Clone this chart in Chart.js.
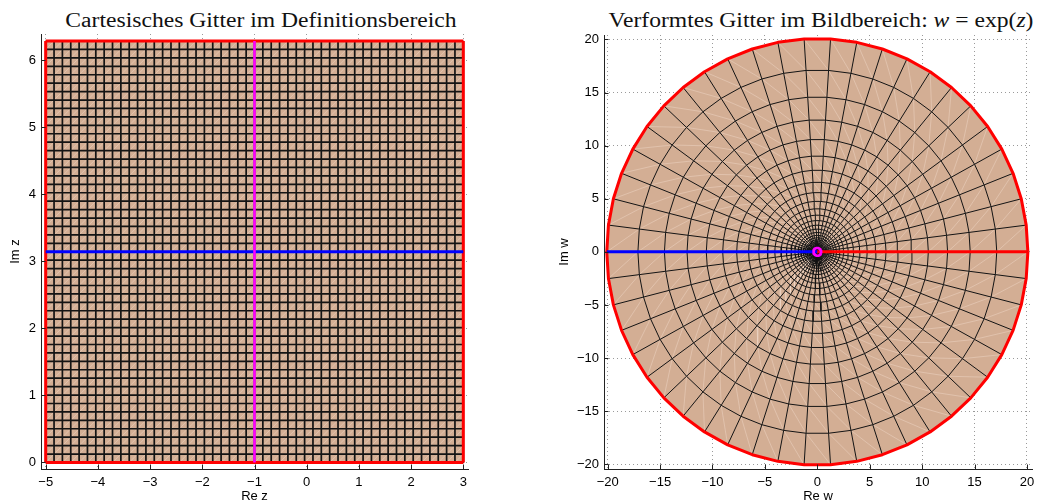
<!DOCTYPE html>
<html>
<head>
<meta charset="utf-8">
<script src="https://cdn.jsdelivr.net/npm/chart.js@4.4.1/dist/chart.umd.min.js"></script>
<style>
  html, body { margin: 0; padding: 0; background: #fff; }
  body { width: 1049px; height: 502px; overflow: hidden; position: relative; }
  canvas { position: absolute; top: 0; }
  #zPlane { left: 0; }
  #wPlane { left: 524px; }
  .title {
    position: absolute; top: 10px; line-height: 20px; white-space: nowrap;
    font-family: "Liberation Serif", "Times New Roman", serif; font-size: 20px; color: #111;
    transform: translateX(-50%) scaleX(1.18);
  }
  .title i { font-style: italic; }
</style>
</head>
<body>
<div class="title" style="left:261px">Cartesisches Gitter im Definitionsbereich</div>
<div class="title" style="left:821px">Verformtes Gitter im Bildbereich: <i>w</i> = exp(<i>z</i>)</div>
<canvas id="zPlane" width="520" height="502"></canvas>
<canvas id="wPlane" width="525" height="502"></canvas>
<script>
// Grid lines of the domain: Re z and Im z values
const reGrid = [-5.00, -4.84, -4.68, -4.52, -4.36, -4.20, -4.04, -3.88, -3.72, -3.56,
                -3.40, -3.24, -3.08, -2.92, -2.76, -2.60, -2.44, -2.28, -2.12, -1.96,
                -1.80, -1.64, -1.48, -1.32, -1.16, -1.00, -0.84, -0.68, -0.52, -0.36,
                -0.20, -0.04, 0.12, 0.28, 0.44, 0.60, 0.76, 0.92, 1.08, 1.24,
                1.40, 1.56, 1.72, 1.88, 2.04, 2.20, 2.36, 2.52, 2.68, 2.84, 3.00];
const imGrid = [0, 0.1257, 0.2513, 0.3770, 0.5027, 0.6283, 0.7540, 0.8796, 1.0053, 1.1310,
                1.2566, 1.3823, 1.5080, 1.6336, 1.7593, 1.8850, 2.0106, 2.1363, 2.2619, 2.3876,
                2.5133, 2.6389, 2.7646, 2.8903, 3.0159, 3.1416, 3.2673, 3.3929, 3.5186, 3.6442,
                3.7699, 3.8956, 4.0212, 4.1469, 4.2726, 4.3982, 4.5239, 4.6496, 4.7752, 4.9009,
                5.0265, 5.1522, 5.2779, 5.4035, 5.5292, 5.6549, 5.7805, 5.9062, 6.0319, 6.1575, 6.2832];

// Highlighted lines: Re z = -1 (magenta) and Im z = pi (blue)
const reHighlight = -1.00;
const imHighlight = 3.1416;

// Tick labels
const zTicksX = [-5, -4, -3, -2, -1, 0, 1, 2, 3];
const zTicksY = [0, 1, 2, 3, 4, 5, 6];
const wTicksX = [-20, -15, -10, -5, 0, 5, 10, 15, 20];
const wTicksY = [-20, -15, -10, -5, 0, 5, 10, 15, 20];

// ---------------------------------------------------------------------------
const GAP = { x: NaN, y: NaN };
const identity = (re, im) => ({ x: re, y: im });
const expMap = (re, im) => ({ x: Math.exp(re) * Math.cos(im), y: Math.exp(re) * Math.sin(im) });

const constRe = (map, re) => imGrid.map(im => map(re, im));
const constIm = (map, im) => reGrid.map(re => map(re, im));
const joinLines = lines => lines.reduce((acc, l, i) => acc.concat(i ? [GAP] : [], l), []);

function meshLines(map) {
  return joinLines(reGrid.map(re => constRe(map, re)).concat(imGrid.map(im => constIm(map, im))));
}
// faint cell diagonals (lower-left to upper-right corner of each cell)
function meshDiagonals(map) {
  const lines = [];
  const n = reGrid.length, m = imGrid.length;
  for (let s = -(m - 2); s <= n - 2; s++) {
    const pts = [];
    for (let j = 0; j < m; j++) {
      const k = j + s;
      if (k >= 0 && k < n) pts.push(map(reGrid[k], imGrid[j]));
    }
    if (pts.length > 1) lines.push(pts);
  }
  return joinLines(lines);
}
function boundaryOutline(map) {
  const last = reGrid.length - 1, top = imGrid.length - 1;
  return [].concat(
    constIm(map, imGrid[0]),
    constRe(map, reGrid[last]),
    constIm(map, imGrid[top]).reverse(),
    constRe(map, reGrid[0]).reverse()
  );
}
function boundaryLines(map) {
  const last = reGrid.length - 1, top = imGrid.length - 1;
  return joinLines([
    constRe(map, reGrid[last]),
    constRe(map, reGrid[0]),
    constIm(map, imGrid[0]),
    constIm(map, imGrid[top])
  ]);
}

function datasets(map, gridWidth) {
  const line = (data, color, width, order, extra) => Object.assign({
    data, showLine: true, borderColor: color, borderWidth: width, order,
    pointRadius: 0, pointHoverRadius: 0, fill: false, borderJoinStyle: 'round', borderCapStyle: 'butt'
  }, extra || {});
  return [
    line(boundaryOutline(map), 'rgba(0,0,0,0)', 0, 6, { fill: 'shape', backgroundColor: '#d3ae94' }),
    line(meshDiagonals(map), 'rgba(255,240,228,0.38)', 0.8, 5),
    line(meshLines(map), '#141414', gridWidth, 4),
    line(boundaryLines(map), '#ff0000', 3, 3),
    line(constIm(map, imHighlight), '#0000ff', 3, 2),
    line(constRe(map, reHighlight), '#ff00ff', 2.6, 1)
  ];
}

// ---------------------------------------------------------------------------
const fmt = v => (v < 0 ? '\u2212' + Math.abs(v) : String(v));
const tickFont = { family: '"Liberation Sans", Arial, Helvetica, sans-serif', size: 13 };

// short inward tick marks on the left and bottom axes
const inwardTicks = {
  id: 'inwardTicks',
  afterDraw(chart) {
    const { ctx, chartArea: a, scales: { x, y } } = chart;
    ctx.save();
    ctx.strokeStyle = '#222';
    ctx.lineWidth = 1;
    ctx.beginPath();
    x.ticks.forEach(t => {
      const px = Math.round(x.getPixelForValue(t.value)) + 0.5;
      ctx.moveTo(px, a.bottom); ctx.lineTo(px, a.bottom - 4.5);
    });
    y.ticks.forEach(t => {
      const py = Math.round(y.getPixelForValue(t.value)) + 0.5;
      ctx.moveTo(a.left, py); ctx.lineTo(a.left + 4.5, py);
    });
    ctx.stroke();
    ctx.restore();
  }
};

function axis(range, ticks, title, size, titlePad, labelPad, horizontal) {
  return {
    type: 'linear', min: range[0], max: range[1],
    afterBuildTicks: s => { s.ticks = ticks.map(v => ({ value: v })); },
    afterFit: s => { if (horizontal) s.height = size; else s.width = size; },
    grid: { color: '#9a9a9a', lineWidth: 1, drawTicks: false },
    border: { display: true, color: '#222', width: 1, dash: [1, 3] },
    ticks: { color: '#000', font: tickFont, padding: labelPad, callback: fmt, autoSkip: false, maxRotation: 0 },
    title: { display: true, text: title, color: '#000', font: tickFont, padding: titlePad }
  };
}

function makeChart(id, map, gridWidth, pad, xAxis, yAxis) {
  return new Chart(document.getElementById(id), {
    type: 'scatter',
    data: { datasets: datasets(map, gridWidth) },
    options: {
      responsive: false, animation: false, events: [],
      layout: { padding: pad },
      elements: { line: { tension: 0 }, point: { radius: 0 } },
      plugins: { legend: { display: false }, tooltip: { enabled: false }, title: { display: false } },
      scales: { x: xAxis, y: yAxis }
    },
    plugins: [inwardTicks]
  });
}

makeChart('zPlane', identity, 1.7,
  { left: 0, right: 52, top: 34, bottom: 0 },
  axis([-5.09, 3.09], zTicksX, 'Re z', 33, { top: 0, bottom: -2 }, 6, true),
  axis([-0.097, 6.388], zTicksY, 'Im z', 41, { top: 8, bottom: 0 }, 5, false));

makeChart('wPlane', expMap, 1,
  { left: 0, right: 17, top: 35, bottom: 0 },
  axis([-20.35, 20.48], wTicksX, 'Re w', 33, { top: 0, bottom: -2 }, 6, true),
  axis([-20.45, 20.42], wTicksY, 'Im w', 80, { top: 33, bottom: 0 }, 5, false));
</script>
</body>
</html>
